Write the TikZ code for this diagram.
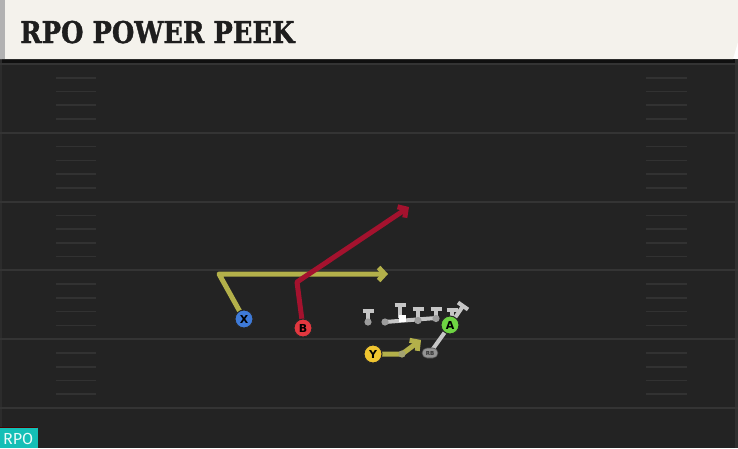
\documentclass[tikz,border=0pt]{standalone}
\usepackage{fontspec}
\setmainfont{DejaVu Sans}
\newfontfamily\titlefont{DejaVu Serif}[BoldFeatures={FakeBold=1.2}]
\newfontfamily\labfont{Fira Sans}
\usetikzlibrary{arrows.meta,shapes.misc,calc}
\definecolor{fieldbg}{HTML}{232323}
\definecolor{yardline}{HTML}{343434}
\definecolor{hashc}{HTML}{323232}
\definecolor{titlebg}{HTML}{F4F2EC}
\definecolor{titletxt}{HTML}{1E1E1E}
\definecolor{routey}{HTML}{B3B04A}
\definecolor{router}{HTML}{A4122E}
\definecolor{blockg}{HTML}{C6C6C6}
\definecolor{dotg}{HTML}{9C9C9C}
\definecolor{pblue}{HTML}{3E7AD8}
\definecolor{pred}{HTML}{E2373F}
\definecolor{pyel}{HTML}{F0C530}
\definecolor{pgreen}{HTML}{6ED443}
\definecolor{teal}{HTML}{14BFB6}
\pgfdeclarelayer{field}
\pgfdeclarelayer{routes}
\pgfsetlayers{field,routes,main}
\tikzset{
  player/.style={circle, draw=black!85, line width=1pt, minimum size=18pt, inner sep=0pt,
    font=\bfseries\fontsize{11}{11}\selectfont, text=black},
  yroute/.style={draw=routey, line width=5pt, line join=round},
  rroute/.style={draw=router, line width=5pt, line join=round},
  groute/.style={draw=blockg, line width=4pt, line join=round},
  chev/.style={-{Straight Barb[length=6pt,width=13pt]}},
  hash/.style={draw=hashc, line width=1.6pt},
  yard/.style={draw=yardline, line width=2pt},
}
\begin{document}
\begin{tikzpicture}[x=1pt,y=-1pt]
\useasboundingbox (0,0) rectangle (738,448);
\begin{pgfonlayer}{field}
  \fill[fieldbg] (0,59) rectangle (738,448);
  \fill[black!55!fieldbg] (0,59) rectangle (738,63);
  \fill[white!6!fieldbg] (735,59) rectangle (738,448);
  \fill[white!4!fieldbg] (0,59) rectangle (2,448);
  \foreach \i in {0,...,5} {
    \draw[yard] (0,{64+68.8*\i}) -- (738,{64+68.8*\i});
  }
  \foreach \i in {0,...,4} {
    \foreach \j in {1,...,4} {
      \draw[hash] (56,{64+68.8*\i+13.76*\j}) -- (96,{64+68.8*\i+13.76*\j});
      \draw[hash] (646,{64+68.8*\i+13.76*\j}) -- (687,{64+68.8*\i+13.76*\j});
    }
  }
  % title bar
  \fill[titlebg] (0,0) -- (738,0) -- (738,42) -- (733,59) -- (0,59) -- cycle;
  \fill[black!30] (0,0) rectangle (5,59);
  % RPO tag
  \fill[teal] (0,428) rectangle (38,448);
  \draw[draw=black!70!red, line width=1.5pt] (0,427.5) -- (37,427.5);
\end{pgfonlayer}

\node[anchor=base west, inner sep=0pt, text=titletxt,
  font=\titlefont\bfseries\fontsize{30}{30}\selectfont] (title) at (20,43)
  {\scalebox{0.86}[1]{RPO POWER PEEK}};
\node[anchor=base west, inner sep=0pt, text=white!92!teal,
  font=\labfont\fontsize{16}{16}\selectfont] (tag) at (3,444.5) {RPO};

% players
\node[player, fill=pblue] (X) at (244,319) {X};
\node[player, fill=pred] (B) at (303,328) {B};
\node[player, fill=pyel] (Y) at (373,354) {Y};
\node[player, fill=pgreen] (A) at (450,325) {A};
\node[rounded rectangle, fill=black!42, draw=black!70, line width=0.6pt, minimum width=16pt,
  minimum height=10pt, inner sep=0pt, font=\bfseries\fontsize{5.5}{5.5}\selectfont, text=black!80] (RB) at (430,353) {RB};

\coordinate (xc) at (219,274);
\coordinate (xe) at (388,274);
\coordinate (bc) at (297,282);
\coordinate (be) at (409,207);
\coordinate (yd) at (402,354);
\coordinate (ye) at (421,340);
\coordinate (ab) at (463,306);

\begin{pgfonlayer}{routes}
  \draw[yroute, chev] (X.center) -- (xc) -- (xe);
  \draw[rroute, chev] (B.center) -- (bc) -- (be);
  \draw[yroute, chev] (Y.center) -- (yd) -- (ye);
  \fill[black!30!routey!70!white] (yd) circle (3.6pt);
  % RB path with block
  \draw[groute] (RB.center) -- (A.center) -- (ab);
  \draw[groute] ($(ab)+(-5,-3.5)$) -- ($(ab)+(5,3.5)$);
  % linemen
  \foreach \x/\t/\d in {368/311/322, 400/305/318, 418/309/321, 436/309/320, 452/310/321} {
    \draw[groute] (\x,\t) -- (\x,\d);
    \draw[groute] (\x-5.5,\t) -- (\x+5.5,\t);
  }
  \draw[groute] (385,322) -- (436,318);
  \foreach \x/\d in {368/322, 385/322, 418/320.5, 436/318.5} {
    \fill[dotg] (\x,\d) circle (3.6pt);
  }
  \fill[white] (399,315) rectangle (406,322);
\end{pgfonlayer}
\end{tikzpicture}
\end{document}
